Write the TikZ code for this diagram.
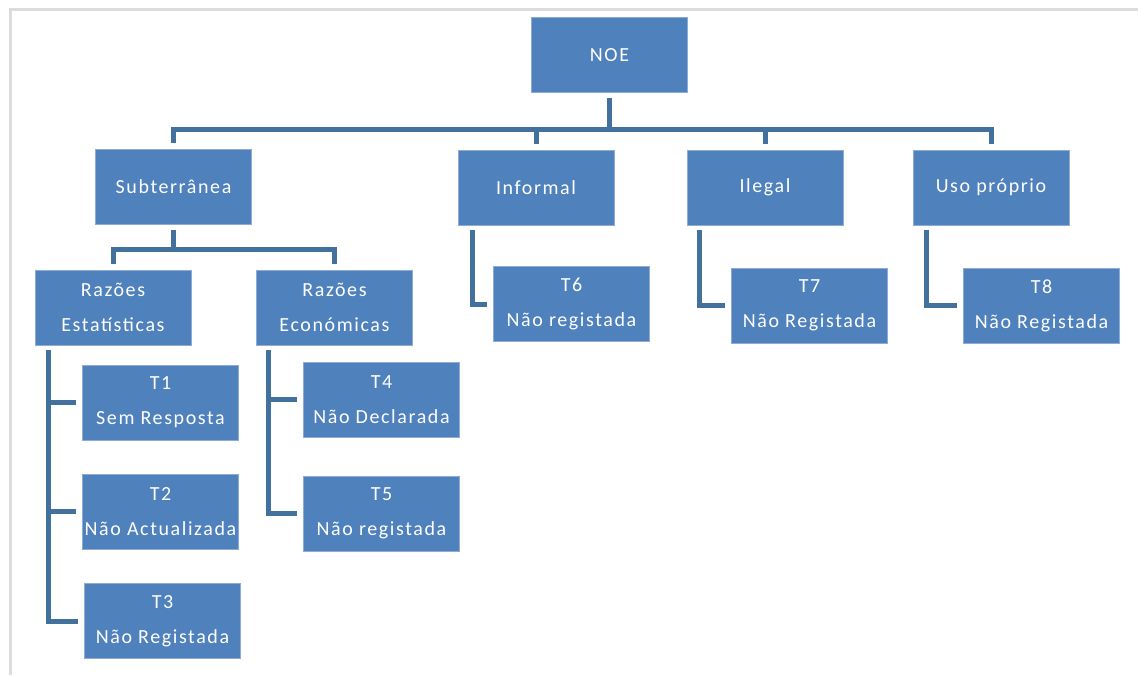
\documentclass[tikz,border=0pt]{standalone}
\usepackage{fontspec}
\newfontfamily\boxfont{Carlito}[LetterSpace=8]
\usepackage{tikz}
\usetikzlibrary{positioning}
\definecolor{boxblue}{HTML}{4F81BD}
\definecolor{boxedge}{HTML}{8EAAD6}
\definecolor{lineblue}{HTML}{41719C}
\definecolor{framegray}{HTML}{DCDCDC}
\tikzset{box/.style={shape=rectangle, fill=boxblue, draw=boxedge, line width=0.6pt,
    minimum width=156pt, minimum height=75pt, inner sep=0pt, text=white, align=center,
    font=\boxfont\fontsize{20}{35}\selectfont}}
\tikzset{conn/.style={draw=lineblue, line width=5pt, shorten <=5pt, shorten >=6pt}}

\begin{document}
\begin{tikzpicture}[x=1pt, y=-1pt]
    \useasboundingbox (0,0) rectangle (1138,675);

    %%%% Frame
    \draw [draw=framegray, line width=3pt] (10,675) -- (10,9.5) -- (1138,9.5);

    %%%% Top level
    \node[box](noe) at (609.5,55)                {NOE};
    \node[box](sub) at (173.5,187)               {Subterrânea};
    \node[box](inf) at (536,187.5)               {Informal};
    \node[box](ile) at (765,187.5)               {Ilegal};
    \node[box](uso) at (991,187.5)               {Uso próprio};

    %%%% Subterranea branch
    \node[box](rest) at (113,307.5)              {Razões\\Estatísticas};
    \node[box](reco) at (334.5,307.5)            {Razões\\Económicas};
    \node[box](t1) at (160.5,402.5)              {T1\\Sem Resposta};
    \node[box](t2) at (160.5,511.5)              {T2\\Não Actualizada};
    \node[box](t3) at (162.5,621)                {T3\\Não Registada};
    \node[box](t4) at (381.5,399.5)              {T4\\Não Declarada};
    \node[box](t5) at (381.5,513.5)              {T5\\Não registada};

    %%%% Other branches
    \node[box](t6) at (571.5,304)                {T6\\Não registada};
    \node[box](t7) at (809.5,305.5)              {T7\\Não Registada};
    \node[box](t8) at (1041.5,305.5)             {T8\\Não Registada};

    %%%% Top bus
    \draw [conn] (noe.south) -- ++(0,37) -| (sub.north);
    \draw [conn] (noe.south) -- ++(0,37) -| (inf.north);
    \draw [conn] (noe.south) -- ++(0,37) -| (ile.north);
    \draw [conn] (noe.south) -- ++(0,37) -| (uso.north);

    %%%% Subterranea bus
    \draw [conn] (sub.south) -- ++(0,25) -| (rest.north);
    \draw [conn] (sub.south) -- ++(0,25) -| (reco.north);

    %%%% Rails
    \draw [conn] ([xshift=13.5pt]rest.south west) |- (t1.west);
    \draw [conn] ([xshift=13.5pt]rest.south west) |- (t2.west);
    \draw [conn] ([xshift=13.5pt]rest.south west) |- (t3.west);
    \draw [conn] ([xshift=12.5pt]reco.south west) |- (t4.west);
    \draw [conn] ([xshift=12.5pt]reco.south west) |- (t5.west);
    \draw [conn] ([xshift=14.5pt]inf.south west) |- (t6.west);
    \draw [conn] ([xshift=13pt]ile.south west) |- (t7.west);
    \draw [conn] ([xshift=13.5pt]uso.south west) |- (t8.west);

\end{tikzpicture}
\end{document}
